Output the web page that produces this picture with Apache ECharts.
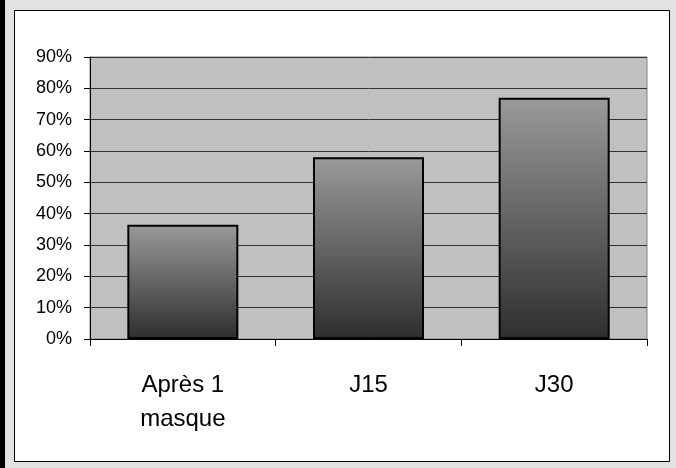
<!DOCTYPE html>
<html>
<head>
<meta charset="utf-8">
<script src="https://cdn.jsdelivr.net/npm/echarts@6/dist/echarts.min.js"></script>
<style>
  html, body { margin: 0; padding: 0; background: #000; }
  #main { width: 676px; height: 468px; }
</style>
</head>
<body>
<div id="main"></div>
<script>
// categories and values
const categories = ['Après 1\nmasque', 'J15', 'J30'];
const values = [0.365, 0.58, 0.77];

const chart = echarts.init(document.getElementById('main'));
const option = {
  backgroundColor: '#000',
  animation: false,
  graphic: [
    // light gray frame
    { type: 'rect', shape: { x: 5, y: 0, width: 671, height: 468 }, style: { fill: '#e2e2e2' }, z: -10 },
    // white chart panel
    { type: 'rect', shape: { x: 14.5, y: 10.5, width: 655, height: 451 }, style: { fill: '#fff', stroke: '#000', lineWidth: 1 }, z: -9 },
    // plot area background
    { type: 'rect', shape: { x: 90, y: 57, width: 557, height: 282 }, style: { fill: '#c0c0c0', stroke: '#808080', lineWidth: 1 }, z: -8 }
  ],
  grid: { left: 90, right: 29, top: 57, bottom: 129, containLabel: false },
  xAxis: {
    type: 'category',
    data: categories,
    axisLine: { lineStyle: { color: '#000', width: 1 } },
    axisTick: { show: true, length: 7, lineStyle: { color: '#000' } },
    axisLabel: { color: '#000', fontFamily: 'Liberation Sans, Arial', fontSize: 24, lineHeight: 34, margin: 29 }
  },
  yAxis: {
    type: 'value',
    min: 0,
    max: 0.9,
    interval: 0.1,
    axisLine: { show: true, lineStyle: { color: '#000', width: 1 } },
    axisTick: { show: true, length: 6, lineStyle: { color: '#000' } },
    splitLine: { lineStyle: { color: '#333', width: 1 } },
    axisLabel: {
      color: '#000', fontFamily: 'Liberation Sans, Arial', fontSize: 18, margin: 18,
      formatter: v => Math.round(v * 100) + '%'
    }
  },
  series: [{
    type: 'bar',
    data: values,
    barWidth: 111,
    itemStyle: {
      borderColor: '#000',
      borderWidth: 2,
      color: new echarts.graphic.LinearGradient(0, 0, 0, 1, [
        { offset: 0, color: '#9a9a9a' },
        { offset: 1, color: '#2e2e2e' }
      ])
    }
  }]
};
chart.setOption(option);
</script>
</body>
</html>
